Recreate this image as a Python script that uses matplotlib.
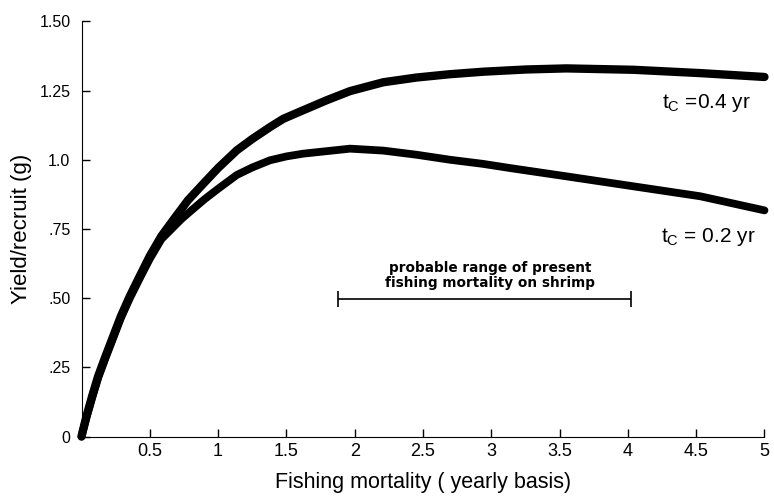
import matplotlib.pyplot as plt

plt.rcParams['font.family'] = ['Liberation Sans', 'DejaVu Sans']

# Fishing mortality (F) and yield per recruit (g)
f_04 = [0, 0.012, 0.037, 0.078, 0.122, 0.176, 0.232, 0.288, 0.354, 0.427, 0.50, 0.585, 0.671,
        0.78, 0.893, 1.0, 1.137, 1.25, 1.38, 1.478, 1.624, 1.795, 1.966, 2.21, 2.453, 2.697,
        2.94, 3.25, 3.55, 4.04, 4.53, 5.0]
y_04 = [0, 0.025, 0.074, 0.146, 0.218, 0.29, 0.362, 0.434, 0.507, 0.58, 0.652, 0.724, 0.782,
        0.854, 0.914, 0.97, 1.034, 1.075, 1.118, 1.148, 1.179, 1.215, 1.248, 1.28, 1.297, 1.309,
        1.318, 1.326, 1.330, 1.325, 1.313, 1.299]

f_02 = [0, 0.012, 0.037, 0.078, 0.122, 0.176, 0.232, 0.288, 0.354, 0.427, 0.50, 0.585, 0.73,
        0.80, 0.90, 1.0, 1.137, 1.25, 1.38, 1.5, 1.624, 1.795, 1.966, 2.21, 2.453, 2.697, 2.94,
        3.136, 3.55, 4.04, 4.53, 5.0]
y_02 = [0, 0.023, 0.07, 0.14, 0.212, 0.284, 0.356, 0.428, 0.50, 0.572, 0.642, 0.713, 0.785,
        0.815, 0.857, 0.895, 0.945, 0.972, 0.998, 1.012, 1.022, 1.031, 1.040, 1.033, 1.018, 1.0,
        0.985, 0.970, 0.940, 0.904, 0.868, 0.817]

# probable range of present fishing mortality
range_lo, range_hi, range_y = 1.88, 4.02, 0.497

x_ticks = [0.5, 1, 1.5, 2, 2.5, 3, 3.5, 4, 4.5, 5]
x_labels = ['0.5', '1', '1.5', '2', '2.5', '3', '3.5', '4', '4.5', '5']
y_ticks = [0, 0.25, 0.5, 0.75, 1.0, 1.25, 1.5]
y_labels = ['0', '.25', '.50', '.75', '1.0', '1.25', '1.50']

fig = plt.figure(figsize=(7.74, 5.01), dpi=100)
ax = fig.add_axes([0.1053, 0.1287, 0.8824, 0.8287])

ax.plot(f_04, y_04, color='black', lw=6, solid_capstyle='round', solid_joinstyle='round', clip_on=False)
ax.plot(f_02, y_02, color='black', lw=5.6, solid_capstyle='round', solid_joinstyle='round', clip_on=False)

half = (range_hi - range_lo) / 2
ax.errorbar(range_lo + half, range_y, xerr=[[half], [half]],
            color='black', lw=1.2, capsize=6, capthick=1.2)
ax.text(2.99, 0.53, 'probable range of present\nfishing mortality on shrimp',
        ha='center', va='bottom', fontsize=9.8, linespacing=1.05, fontweight='bold',
        family=['DejaVu Sans'])

ax.text(4.25, 1.204, r'$\mathregular{t_C}$ =0.4 yr', ha='left', va='center', fontsize=15)
ax.text(4.24, 0.721, r'$\mathregular{t_C}$ = 0.2 yr', ha='left', va='center', fontsize=15)

ax.set_xlim(0, 5)
ax.set_ylim(0, 1.5)
ax.set_xticks(x_ticks)
ax.set_xticklabels(x_labels, family=['Liberation Sans Narrow', 'Liberation Sans'], fontsize=13)
ax.set_yticks(y_ticks)
ax.set_yticklabels(y_labels, fontsize=11.5)
ax.tick_params(direction='in', length=6, width=1)
ax.tick_params(axis='x', pad=5)
ax.tick_params(axis='y', pad=8)
ax.spines['top'].set_visible(False)
ax.spines['right'].set_visible(False)

ax.set_xlabel('Fishing mortality ( yearly basis)', fontsize=15.5, labelpad=8)
ax.set_ylabel('Yield/recruit (g)', fontsize=16, labelpad=5)

plt.savefig('out.png', dpi=100)
